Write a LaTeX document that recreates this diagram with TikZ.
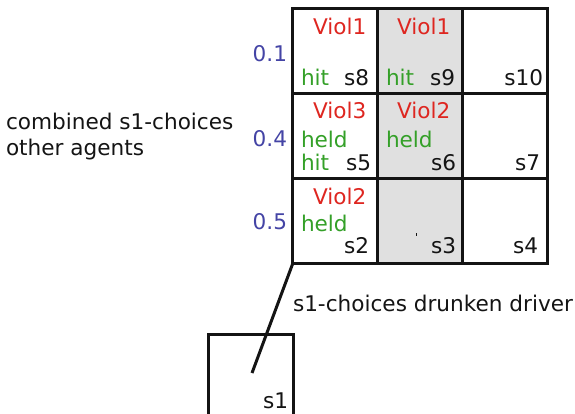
\documentclass[tikz,border=0pt]{standalone}
\usepackage{fontspec}
\setmainfont{DejaVu Sans}
\definecolor{violred}{RGB}{222,38,32}
\definecolor{actgreen}{RGB}{52,160,40}
\definecolor{probblue}{RGB}{68,68,165}
\definecolor{cellgray}{RGB}{224,224,224}
\definecolor{ink}{RGB}{20,20,20}
\begin{document}
\begin{tikzpicture}[x=1pt,y=-1pt,
  every node/.style={inner sep=0pt,outer sep=0pt,font=\fontsize{21.6}{26}\selectfont},
  cell/.style={draw=ink,line width=3pt,minimum width=85pt,minimum height=85pt},
  graycell/.style={cell,fill=cellgray},
  viol/.style={text=violred,anchor=base west},
  act/.style={text=actgreen,anchor=base west},
  sname/.style={text=ink,anchor=base east},
  prob/.style={text=probblue,anchor=base east},
  plain/.style={text=ink,anchor=base west}]
\useasboundingbox (0,0) rectangle (575,413);

% grid of combined states
\node[cell]     (s8)  at (335.25,51) {};
\node[graycell] (s9)  at (420,51) {};
\node[cell]     (s10) at (504.75,51) {};
\node[cell]     (s5)  at (335.25,136) {};
\node[graycell] (s6)  at (420,136) {};
\node[cell]     (s7)  at (504.75,136) {};
\node[cell]     (s2)  at (335.25,221) {};
\node[graycell] (s3)  at (420,221) {};
\node[cell]     (s4)  at (504.75,221) {};

% state names
\node[sname] (n8)  at (369,85) {s8};
\node[sname] (n9)  at (455,85) {s9};
\node[sname] (n10) at (543,85) {s10};
\node[sname] (n5)  at (371,170) {s5};
\node[sname] (n6)  at (456,170) {s6};
\node[sname] (n7)  at (540,170) {s7};
\node[sname] (n2)  at (369,253) {s2};
\node[sname] (n3)  at (456,253) {s3};
\node[sname] (n4)  at (538,253) {s4};

% violations
\node[viol] (v8) at (313,34) {Viol1};
\node[viol] (v9) at (397,34) {Viol1};
\node[viol] (v5) at (313,118) {Viol3};
\node[viol] (v6) at (397,118) {Viol2};
\node[viol] (v2) at (313,204) {Viol2};

% actions
\node[act] (a8)  at (301,85) {hit};
\node[act] (a9)  at (386,85) {hit};
\node[act] (a5a) at (301,147) {held};
\node[act] (a5b) at (301,170) {hit};
\node[act] (a6)  at (386,147) {held};
\node[act] (a2)  at (301,231) {held};

% small mark in s3
\draw[ink,line width=0.8pt] (416,233) -- (416,236);

% probabilities of the other agents' choices
\node[prob] (p1) at (287,61)  {0.1};
\node[prob] (p4) at (287,146) {0.4};
\node[prob] (p5) at (287,229) {0.5};

% axis labels
\node[plain] (comb)  at (6,129) {combined s1-choices};
\node[plain] (other) at (6,155) {other agents};
\node[plain] (driver) at (293,311) {s1-choices drunken driver};

% initial state
\node[draw=ink,line width=3pt,minimum width=85pt,minimum height=100pt,anchor=north west] (s1) at (208.5,334) {};
\node[sname] (n1) at (288,408) {s1};
\coordinate (tip) at (252,373);
\draw[ink,line width=3pt] (s2.south west) -- (tip);
\end{tikzpicture}
\end{document}
